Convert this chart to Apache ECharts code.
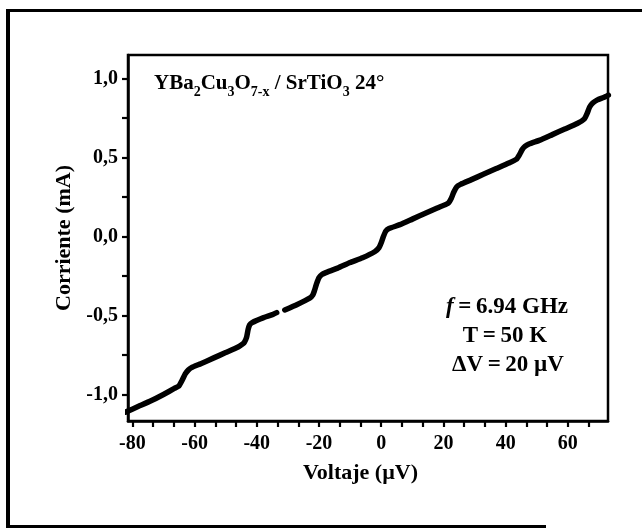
<!DOCTYPE html>
<html>
<head>
<meta charset="utf-8">
<script src="https://cdn.jsdelivr.net/npm/echarts@6/dist/echarts.min.js"></script>
<style>
html,body{margin:0;padding:0;background:#fff;}
#chart{width:642px;height:529px;}
</style>
</head>
<body>
<div id="chart"></div>
<script>
// Voltage (µV) and current (mA)
const voltages = [-82.2, -78, -74, -70, -66.5,
  -65, -64, -63, -62, -61,
  -58, -54, -50, -46, -44.5,
  -44, -43.3, -42.8, -42.3, -41.5,
  -38, -35, -33.6, -33, -31, -27, -23, -22,
  -21.5, -20.8, -20, -19, -18,
  -14, -10, -6, -2, -0.7,
  0, 0.7, 1.5, 2.5,
  6, 10, 14, 18, 21.5,
  22.5, 23.3, 24.3, 25.5,
  29, 33, 37, 41, 43.5,
  44.5, 45.3, 46.2, 47.5,
  51, 55, 59, 63, 65.3,
  66.2, 67, 68, 69.5,
  71.5, 73];
const currents = [-1.112, -1.075, -1.04, -1.0, -0.962,
  -0.945, -0.91, -0.87, -0.845, -0.83,
  -0.805, -0.77, -0.735, -0.70, -0.68,
  -0.67, -0.64, -0.59, -0.56, -0.545,
  -0.515, -0.495, -0.482, null, -0.465, -0.43, -0.39, -0.37,
  -0.345, -0.30, -0.26, -0.24, -0.23,
  -0.20, -0.165, -0.135, -0.095, -0.07,
  -0.04, 0.0, 0.035, 0.05,
  0.075, 0.11, 0.145, 0.18, 0.21,
  0.24, 0.28, 0.315, 0.33,
  0.36, 0.395, 0.43, 0.465, 0.49,
  0.52, 0.55, 0.57, 0.585,
  0.61, 0.645, 0.68, 0.715, 0.745,
  0.78, 0.82, 0.845, 0.865,
  0.88, 0.895];

const xMajorTicks = [-80, -60, -40, -20, 0, 20, 40, 60];
const xAllTicks = [-80, -73.33, -66.67, -60, -53.33, -46.67, -40, -33.33, -26.67, -20,
  -13.33, -6.67, 0, 6.67, 13.33, 20, 26.67, 33.33, 40, 46.67, 53.33, 60, 66.67];
const yMajorTicks = [-1.0, -0.5, 0.0, 0.5, 1.0];
const yAllTicks = [-1.0, -0.75, -0.5, -0.25, 0.0, 0.25, 0.5, 0.75, 1.0];

const xTitle = 'Voltaje (\u00b5V)';
const yTitle = 'Corriente (mA)';

const serif = '"Liberation Serif", "DejaVu Serif", serif';

const data = voltages.map((v, i) => [v, currents[i]]);

const chart = echarts.init(document.getElementById('chart'), null, {renderer: 'canvas'});

const axisFont = {fontFamily: serif, fontWeight: 'bold', fontSize: 20, color: '#000'};

chart.setOption({
  backgroundColor: '#fff',
  animation: false,
  grid: {left: 128, right: 34, top: 55, bottom: 108, show: true, borderColor: '#000', borderWidth: 2.5, backgroundColor: 'transparent'},
  xAxis: {
    type: 'value', min: -81.4, max: 72.9,
    name: xTitle, nameLocation: 'middle', nameGap: 41,
    nameTextStyle: {fontFamily: serif, fontWeight: 'bold', fontSize: 22, color: '#000', padding: [0, 15, 0, 0]},
    axisLine: {show: true, onZero: false, lineStyle: {color: '#000', width: 2.5}},
    axisTick: {show: true, inside: false, length: 6, customValues: xAllTicks, lineStyle: {color: '#000', width: 2.2}},
    axisLabel: {customValues: xMajorTicks, margin: 13, ...axisFont, formatter: v => String(v)},
    splitLine: {show: false}
  },
  yAxis: {
    type: 'value', min: -1.168, max: 1.149,
    name: yTitle, nameLocation: 'middle', nameGap: 47, nameRotate: 90,
    nameTextStyle: {fontFamily: serif, fontWeight: 'bold', fontSize: 22, color: '#000'},
    axisLine: {show: true, onZero: false, lineStyle: {color: '#000', width: 2.5}},
    axisTick: {show: true, inside: false, length: 6, customValues: yAllTicks, lineStyle: {color: '#000', width: 2.2}},
    axisLabel: {customValues: yMajorTicks, margin: 10, ...axisFont,
      formatter: v => v.toFixed(1).replace('.', ',')},
    splitLine: {show: false}
  },
  series: [{
    type: 'line', data: data, showSymbol: false, connectNulls: false,
    lineStyle: {color: '#000', width: 5.5, cap: 'round', join: 'round'},
    smooth: 0.15
  }],
  graphic: [
    {type: 'rect', shape: {x: 6, y: 10, width: 4, height: 518}, style: {fill: '#000'}, silent: true},
    {type: 'rect', shape: {x: 6, y: 9, width: 636, height: 3}, style: {fill: '#000'}, silent: true},
    {type: 'rect', shape: {x: 6, y: 525, width: 540, height: 3}, style: {fill: '#000'}, silent: true},
    {
      type: 'text', left: 154, top: 73,
      style: {
        text: '{a|YBa}{s|2}{a|Cu}{s|3}{a|O}{s|7-x}{a| / SrTiO}{s|3}{a| 24\u00b0}',
        rich: {
          a: {fontFamily: serif, fontWeight: 'bold', fontSize: 21, lineHeight: 21, verticalAlign: 'top', fill: '#000'},
          s: {fontFamily: serif, fontWeight: 'bold', fontSize: 14, lineHeight: 14, verticalAlign: 'top', padding: [12, 0, 0, 0], fill: '#000'}
        }
      }
    },
    {
      type: 'text', x: 507, y: 307,
      style: {
        text: '{i|f}{n|\u2009=\u20096.94 GHz}', align: 'center', verticalAlign: 'middle',
        rich: {
          i: {fontFamily: serif, fontWeight: 'bold', fontStyle: 'italic', fontSize: 23, fill: '#000'},
          n: {fontFamily: serif, fontWeight: 'bold', fontSize: 23, fill: '#000'}
        }
      }
    },
    {type: 'text', x: 505, y: 336, style: {text: 'T\u2009=\u200950 K', align: 'center', verticalAlign: 'middle', fontFamily: serif, fontWeight: 'bold', fontSize: 23, fill: '#000'}},
    {type: 'text', x: 508, y: 365, style: {text: '\u0394V\u2009=\u200920 \u00b5V', align: 'center', verticalAlign: 'middle', fontFamily: serif, fontWeight: 'bold', fontSize: 23, fill: '#000'}}
  ]
});
</script>
</body>
</html>
